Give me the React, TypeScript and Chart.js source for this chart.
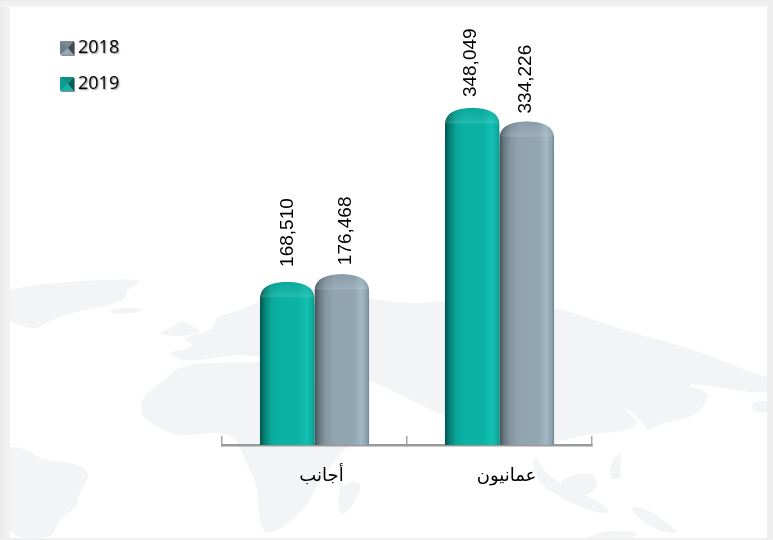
import React, { useEffect, useRef } from "react";
import { Chart, registerables } from "chart.js";

Chart.register(...registerables);

const categories = ["أجانب", "عمانيون"];
const values2019 = [168510, 348049];
const values2018 = [176468, 334226];
const seriesNames = ["2019", "2018"];
const labelGaps = [[15, 9], [11, 8]];
const labelShifts = [[2, 5], [0, 0]];

const tealStops: [number, string][] = [
  [0, "#04524d"], [0.08, "#067d73"], [0.2, "#0aa698"], [0.35, "#0ab2a4"],
  [0.72, "#0bb3a5"], [0.86, "#12c0b1"], [0.97, "#0caa9c"], [1, "#078177"],
];
const greyStops: [number, string][] = [
  [0, "#444e55"], [0.08, "#66767f"], [0.2, "#84969f"], [0.35, "#90a4b0"],
  [0.72, "#92a6b2"], [0.86, "#a0b9c5"], [0.95, "#8ea4b0"], [1, "#70858f"],
];

const landColour = "#f3f4f5";
const land: [number, number][][] = [
  [[0, 291], [40, 284], [110, 279], [146, 280], [125, 290], [128, 298], [110, 305], [75, 312], [50, 320], [40, 328], [25, 328], [0, 316]],
  [[108, 311], [125, 307], [146, 309], [135, 313], [115, 314]],
  [[160, 332], [175, 326], [180, 320], [190, 325], [203, 332], [185, 336], [178, 336], [160, 335]],
  [[165, 352], [190, 349], [192, 342], [180, 339], [215, 329], [216, 316], [240, 311], [262, 300], [300, 285], [400, 305], [450, 300], [555, 307], [580, 315], [610, 325], [640, 335], [680, 345], [720, 360], [750, 372], [773, 378], [773, 393], [745, 392], [700, 384], [685, 385], [710, 392], [705, 405], [695, 415], [680, 420], [655, 425], [650, 432], [640, 420], [622, 404], [628, 412], [640, 425], [620, 432], [590, 434], [565, 440], [520, 450], [445, 416], [400, 395], [370, 380], [320, 362], [285, 352], [260, 358], [240, 354], [215, 358], [185, 362]],
  [[140, 398], [165, 380], [182, 364], [240, 362], [290, 362], [320, 380], [350, 400], [372, 430], [345, 447], [320, 480], [305, 510], [268, 538], [258, 520], [258, 485], [245, 462], [238, 440], [222, 432], [200, 434], [175, 436], [155, 425], [142, 418]],
  [[0, 447], [25, 447], [40, 460], [70, 462], [88, 470], [88, 480], [78, 495], [78, 505], [65, 515], [55, 525], [55, 538], [0, 538]],
  [[338, 486], [358, 480], [362, 490], [346, 515], [338, 512]],
  [[532, 450], [548, 478], [590, 497], [612, 510], [600, 515], [560, 498], [535, 480]],
  [[558, 480], [590, 470], [600, 485], [585, 498], [565, 490]],
  [[610, 463], [622, 450], [620, 470], [622, 478], [610, 480]],
  [[630, 505], [650, 510], [670, 525], [680, 535], [655, 530], [635, 515]],
  [[585, 538], [610, 530], [640, 532], [630, 540], [585, 540]],
  [[750, 402], [773, 400], [773, 412], [755, 413]],
];

function smoothClosed(ctx: CanvasRenderingContext2D, pts: [number, number][]) {
  ctx.beginPath();
  const n = pts.length;
  const mid = (a: [number, number], b: [number, number]) => [(a[0] + b[0]) / 2, (a[1] + b[1]) / 2];
  const s = mid(pts[n - 1], pts[0]);
  ctx.moveTo(s[0], s[1]);
  for (let i = 0; i < n; i++) {
    const m = mid(pts[i], pts[(i + 1) % n]);
    ctx.quadraticCurveTo(pts[i][0], pts[i][1], m[0], m[1]);
  }
  ctx.closePath();
}

function makeMarker(top: string, left: string, right: string, bottom: string) {
  const c = document.createElement("canvas");
  c.width = 14;
  c.height = 14;
  const g = c.getContext("2d")!;
  const tri = (col: string, a: number[], b: number[]) => {
    g.fillStyle = col;
    g.beginPath();
    g.moveTo(a[0], a[1]);
    g.lineTo(b[0], b[1]);
    g.lineTo(8, 7);
    g.closePath();
    g.fill();
  };
  tri(top, [0, 0], [14, 0]);
  tri(left, [0, 0], [0, 14]);
  tri(bottom, [0, 14], [14, 14]);
  tri(right, [14, 0], [14, 14]);
  return c;
}

const backdrop = {
  id: "backdrop",
  beforeDraw(chart: any) {
    const { ctx, width, height } = chart;
    ctx.save();
    ctx.fillStyle = "#ffffff";
    ctx.fillRect(0, 0, width, height);
    ctx.fillStyle = landColour;
    land.forEach((p) => {
      smoothClosed(ctx, p);
      ctx.fill();
    });
    let g = ctx.createLinearGradient(0, 0, 10, 0);
    g.addColorStop(0, "#e9e9e9");
    g.addColorStop(1, "#f3f3f3");
    ctx.fillStyle = g;
    ctx.fillRect(0, 0, 10, height);
    g = ctx.createLinearGradient(0, 0, 0, 7);
    g.addColorStop(0, "#ececec");
    g.addColorStop(1, "#f4f4f4");
    ctx.fillStyle = g;
    ctx.fillRect(0, 0, width, 7);
    ctx.fillStyle = "#eeeeee";
    ctx.fillRect(767, 0, 6, height);
    ctx.fillStyle = "#f0f0f0";
    ctx.fillRect(0, 538, width, 2);
    ctx.restore();

    const legend = chart.legend;
    if (legend && !legend.__shadowed) {
      legend.__shadowed = true;
      const orig = legend.draw.bind(legend);
      legend.draw = (...args: any[]) => {
        ctx.save();
        ctx.shadowColor = "rgba(0,0,0,0.45)";
        ctx.shadowOffsetX = 1;
        ctx.shadowOffsetY = 1;
        ctx.shadowBlur = 1.5;
        orig(...args);
        ctx.restore();
      };
    }
  },
};

const barShading = {
  id: "barShading",
  afterDatasetDraw(chart: any, args: any) {
    const { ctx } = chart;
    const stops = args.index === 0 ? tealStops : greyStops;
    args.meta.data.forEach((bar: any, i: number) => {
      const { x, y, width, base } = bar.getProps(["x", "y", "width", "base"], true);
      const l = x - width / 2;
      const r = x + width / 2;
      ctx.save();
      ctx.beginPath();
      ctx.moveTo(l, base);
      ctx.lineTo(l, y + 17);
      ctx.bezierCurveTo(l, y + 5, l + 11, y, x, y);
      ctx.bezierCurveTo(r - 11, y, r, y + 5, r, y + 17);
      ctx.lineTo(r, base);
      ctx.closePath();
      ctx.clip();
      const g = ctx.createLinearGradient(l, 0, r, 0);
      stops.forEach(([o, c]) => g.addColorStop(o, c));
      ctx.fillStyle = g;
      ctx.fillRect(l, y, width, base - y);
      const t = ctx.createLinearGradient(0, y, 0, y + 16);
      t.addColorStop(0, "rgba(0,0,0,0.06)");
      t.addColorStop(0.75, "rgba(255,255,255,0.06)");
      t.addColorStop(0.9, "rgba(255,255,255,0.12)");
      t.addColorStop(1, "rgba(255,255,255,0)");
      ctx.fillStyle = t;
      ctx.fillRect(l, y, width, 16);
      ctx.restore();

      const text = Number(chart.data.datasets[args.index].data[i]).toLocaleString("en-US");
      ctx.save();
      ctx.translate(x - 1 + labelShifts[i][args.index], y - labelGaps[i][args.index]);
      ctx.rotate(-Math.PI / 2);
      ctx.font = '19px "Liberation Sans"';
      ctx.fillStyle = "#000000";
      ctx.textAlign = "left";
      ctx.textBaseline = "middle";
      ctx.fillText(text, 0, 0);
      ctx.restore();
    });
  },
};

export default function App() {
  const ref = useRef<HTMLCanvasElement>(null);
  useEffect(() => {
    const markers = [
      makeMarker("#0a8f84", "#0a9d90", "#045f58", "#12b5a5"),
      makeMarker("#78898f", "#6f7f89", "#3f4a50", "#93a6b1"),
    ];
    const chart = new Chart(ref.current!, {
      type: "bar",
      data: {
        labels: categories,
        datasets: [
          { label: seriesNames[0], data: values2019, backgroundColor: "#0bb3a5", borderRadius: { topLeft: 27, topRight: 27 }, borderSkipped: "bottom" },
          { label: seriesNames[1], data: values2018, backgroundColor: "#92a6b2", borderRadius: { topLeft: 27, topRight: 27 }, borderSkipped: "bottom" },
        ],
      },
      options: {
        responsive: false,
        animation: false,
        layout: { padding: { left: 47, right: 181, top: 21, bottom: 0 } },
        datasets: { bar: { categoryPercentage: 0.59, barPercentage: 1 } },
        plugins: {
          tooltip: { enabled: false },
          title: { display: false },
          legend: {
            position: "left",
            align: "start",
            reverse: true,
            labels: {
              usePointStyle: true,
              pointStyleWidth: 4,
              padding: 18,
              color: "#000000",
              font: { family: '"Open Sans"', size: 18 },
              generateLabels(c: any) {
                return Chart.defaults.plugins.legend.labels.generateLabels(c).map((it: any) => ({
                  ...it,
                  pointStyle: markers[it.datasetIndex],
                }));
              },
            },
          },
        },
        scales: {
          x: {
            grid: { display: true, drawOnChartArea: false, tickLength: -9, color: "#a6a6a6", lineWidth: 1.5, offset: true },
            border: { display: true, color: "#9a9a9a", width: 2.5 },
            ticks: { color: "#000000", padding: 30, labelOffset: 7, maxRotation: 0, autoSkip: false, font: { family: '"DejaVu Sans"', size: 18 } },
            afterFit(s: any) { s.height = 95; },
          },
          y: {
            min: 0,
            max: 438000,
            grid: { display: false },
            border: { display: false },
            ticks: { display: false },
            afterFit(s: any) { s.width = 222 - 47 - (s.chart.legend?.width ?? 90); },
          },
        },
      },
      plugins: [backdrop, barShading],
    } as any);
    return () => chart.destroy();
  }, []);
  return <canvas ref={ref} width={773} height={540} style={{ position: "absolute", left: 0, top: 0, display: "block" }} />;
}
